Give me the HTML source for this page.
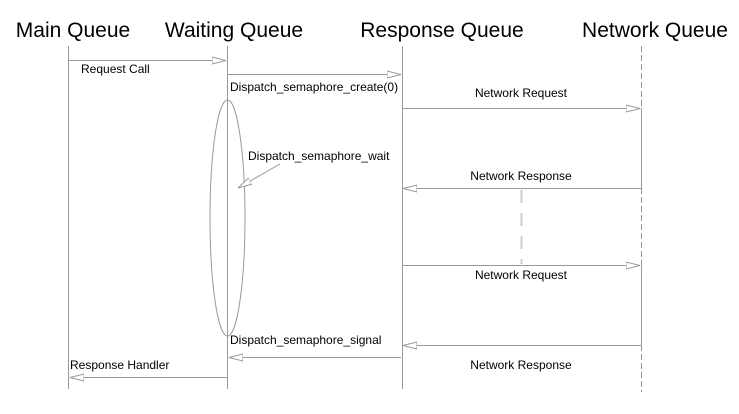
<!DOCTYPE html>
<html><head><style>
body{margin:0;background:#fff;}
svg{display:block;font-family:"Liberation Sans",sans-serif;}
</style></head><body>
<svg width="739" height="414" viewBox="0 0 739 414">
<defs>
<marker id="a" markerWidth="16" markerHeight="10" refX="14" refY="5" orient="auto" markerUnits="userSpaceOnUse">
<path d="M0,1.5 L14,5 L0,8.5 Z" fill="#fff" stroke="#999" stroke-width="1"/>
</marker>
</defs>
<g font-size="21" fill="#000" text-anchor="middle">
<text x="73" y="37">Main Queue</text>
<text x="234" y="37">Waiting Queue</text>
<text x="442" y="37">Response Queue</text>
<text x="655" y="37">Network Queue</text>
</g>
<g stroke="#999" stroke-width="1" fill="none">
<line x1="68.5" y1="46" x2="68.5" y2="389"/>
<line x1="227.5" y1="46" x2="227.5" y2="389"/>
<line x1="402.5" y1="46" x2="402.5" y2="389"/>
<line x1="641.5" y1="46" x2="641.5" y2="108" stroke-dasharray="6,3"/>
<line x1="641.5" y1="108" x2="641.5" y2="188"/>
<line x1="641.5" y1="188" x2="641.5" y2="265" stroke-dasharray="6,3"/>
<line x1="641.5" y1="265" x2="641.5" y2="345"/>
<line x1="641.5" y1="345" x2="641.5" y2="392" stroke-dasharray="6,3"/>
<line x1="521.5" y1="190" x2="521.5" y2="264" stroke="#ccc" stroke-width="2" stroke-dasharray="13,10"/>
<ellipse cx="227.5" cy="218" rx="17.5" ry="118"/>
<line x1="68" y1="60.5" x2="226" y2="60.5" marker-end="url(#a)"/>
<line x1="228" y1="74.5" x2="401" y2="74.5" marker-end="url(#a)"/>
<line x1="403" y1="108.5" x2="640" y2="108.5" marker-end="url(#a)"/>
<line x1="280" y1="164" x2="238" y2="188" marker-end="url(#a)"/>
<line x1="641" y1="188.5" x2="403" y2="188.5" marker-end="url(#a)"/>
<line x1="403" y1="265.5" x2="640" y2="265.5" marker-end="url(#a)"/>
<line x1="641" y1="345.5" x2="403" y2="345.5" marker-end="url(#a)"/>
<line x1="401" y1="357.5" x2="229" y2="357.5" marker-end="url(#a)"/>
<line x1="227" y1="377.5" x2="70" y2="377.5" marker-end="url(#a)"/>
</g>
<g font-size="12" fill="#000">
<text x="81" y="73">Request Call</text>
<text x="230" y="91">Dispatch_semaphore_create(0)</text>
<text x="248" y="160">Dispatch_semaphore_wait</text>
<text x="230" y="344">Dispatch_semaphore_signal</text>
<text x="70" y="369">Response Handler</text>
<g text-anchor="middle">
<text x="521" y="97">Network Request</text>
<text x="521" y="180">Network Response</text>
<text x="521" y="279">Network Request</text>
<text x="521" y="369">Network Response</text>
</g>
</g>
</svg>
</body></html>
